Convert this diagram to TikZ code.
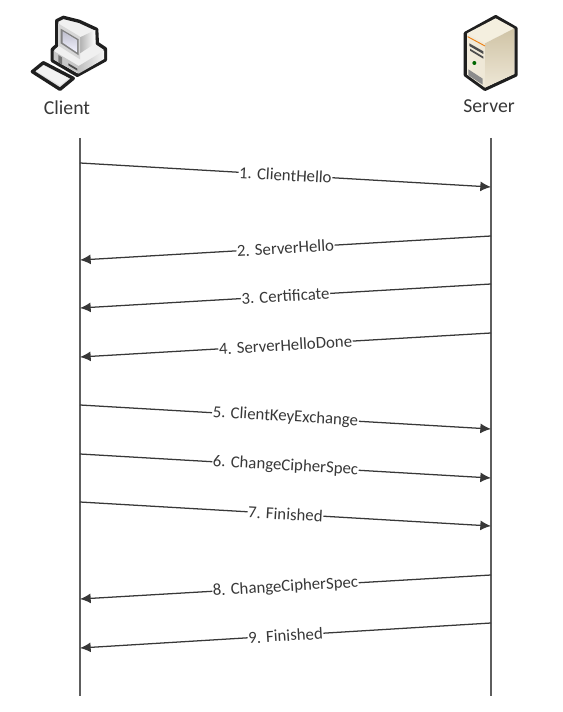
\documentclass[tikz,border=0pt]{standalone}
\usepackage{fontspec}
\setmainfont{Carlito}
\usetikzlibrary{arrows.meta}
\definecolor{inkgray}{HTML}{383838}
\definecolor{lifegray}{HTML}{5E5E5E}
\definecolor{srvtop}{HTML}{F4EFDF}
\definecolor{srvleft}{HTML}{F2ECDC}
\definecolor{srvmid}{HTML}{DDD2B8}
\definecolor{srvdark}{HTML}{CFC3A5}
\definecolor{srvlight}{HTML}{EEE7D6}
\tikzset{
  lifeline/.style={draw=lifegray,line width=1.15pt},
  msg/.style={draw=inkgray,line width=.95pt,-{Latex[length=8pt,width=7.5pt]}},
  backmsg/.style={draw=inkgray,line width=.95pt,{Latex[length=8pt,width=7.5pt]}-},
  msglabel/.style={midway,sloped,fill=white,text=inkgray,inner sep=.5pt,font=\fontsize{12.6}{14}\selectfont},
  hostlabel/.style={text=inkgray,inner sep=0pt,font=\fontsize{14.8}{17}\selectfont},
  edgeline/.style={draw=black!88,line width=2.5pt,line join=round},
}
\begin{document}
\begin{tikzpicture}[x=.75pt,y=-.75pt]
  \useasboundingbox (0,0) rectangle (562,712);
  \fill[white] (0,0) rectangle (562,712);
  % client icon, in 1/3 pixel units
  \begin{scope}[x=.25pt,y=-.25pt]
    \filldraw[edgeline,fill=black!12] (97,215) -- (130,188) -- (220,235) -- (180,268) -- cycle;
    \fill[black!5] (108,213) -- (131,197) -- (206,235) -- (180,256) -- cycle;
    \filldraw[edgeline,fill=black!6] (170,62) -- (190,52) -- (238,64) -- (290,88) -- (292,130) -- (316,146) -- (316,180) -- (232,226) -- (157,182) -- (157,148) -- (170,136) -- cycle;
    \fill[black!22] (161,153) -- (236,198) -- (236,221) -- (161,179) -- cycle;
    \fill[black!55] (175,165) -- (186,172) -- (186,194) -- (175,187) -- cycle;
    \fill[black!70] (205,190) -- (232,206) -- (232,212) -- (205,196) -- cycle;
    \shade[left color=black!25,right color=black!4] (236,198) -- (312,152) -- (312,177) -- (236,221) -- cycle;
    \shade[left color=black!30,right color=white] (240,112) -- (286,90) -- (286,130) -- (240,160) -- cycle;
    \fill[black!16] (174,70) -- (240,110) -- (240,178) -- (174,136) -- cycle;
    \fill[black!50] (182,86) -- (236,118) -- (236,166) -- (182,130) -- cycle;
    \shade[top color=blue!22!black!25,bottom color=blue!5] (188,94) -- (231,120) -- (231,157) -- (188,128) -- cycle;
  \end{scope}
  % server icon
  \begin{scope}[shift={(430,0)},x=.25pt,y=-.25pt]
    \filldraw[edgeline,fill=white] (197,50) -- (258,85) -- (258,225) -- (165,268) -- (106,225) -- (106,100) -- cycle;
    \fill[srvtop] (197,55) -- (252,85) -- (165,130) -- (111,100) -- cycle;
    \shade[left color=srvleft,right color=srvlight] (111,100) -- (165,130) -- (165,263) -- (111,224) -- cycle;
    \shade[top color=srvdark,bottom color=srvlight] (165,130) -- (253,85) -- (253,222) -- (165,263) -- cycle;
    \draw[orange!70!brown,line width=.7pt] (113,110) -- (165,138);
    \fill[black!70] (118,130) -- (160,154) -- (160,162) -- (118,138) -- cycle;
    \fill[black!70] (120,146) -- (160,170) -- (160,176) -- (120,152) -- cycle;
    \fill[black!60!green] (133,189) circle (6);
    \fill[black!45] (115,208) -- (158,236) -- (158,254) -- (115,226) -- cycle;
  \end{scope}
  \node[hostlabel] (client) at (67,108) {Client};
  \node[hostlabel] (server) at (489,106) {Server};
  % lifelines
  \coordinate (ctop) at (80,138);
  \coordinate (cbot) at (80,696);
  \coordinate (stop) at (491,138);
  \coordinate (sbot) at (491,696);
  \draw[lifeline] (ctop) -- (cbot);
  \draw[lifeline] (stop) -- (sbot);
  % messages
  \coordinate (c1) at (80,163);
  \coordinate (s1) at (491,187);
  \coordinate (c2) at (80,260);
  \coordinate (s2) at (491,236);
  \coordinate (c3) at (80,308);
  \coordinate (s3) at (491,284);
  \coordinate (c4) at (80,357);
  \coordinate (s4) at (491,333);
  \coordinate (c5) at (80,405);
  \coordinate (s5) at (491,429);
  \coordinate (c6) at (80,454);
  \coordinate (s6) at (491,478);
  \coordinate (c7) at (80,502);
  \coordinate (s7) at (491,526);
  \coordinate (c8) at (80,599);
  \coordinate (s8) at (491,575);
  \coordinate (c9) at (80,648);
  \coordinate (s9) at (491,623);
  \draw[msg] (c1) -- node[msglabel] (m1) {1. ClientHello} (s1);
  \draw[backmsg] (c2) -- node[msglabel] (m2) {2. ServerHello} (s2);
  \draw[backmsg] (c3) -- node[msglabel] (m3) {3. Certificate} (s3);
  \draw[backmsg] (c4) -- node[msglabel] (m4) {4. ServerHelloDone} (s4);
  \draw[msg] (c5) -- node[msglabel] (m5) {5. ClientKeyExchange} (s5);
  \draw[msg] (c6) -- node[msglabel] (m6) {6. ChangeCipherSpec} (s6);
  \draw[msg] (c7) -- node[msglabel] (m7) {7. Finished} (s7);
  \draw[backmsg] (c8) -- node[msglabel] (m8) {8. ChangeCipherSpec} (s8);
  \draw[backmsg] (c9) -- node[msglabel] (m9) {9. Finished} (s9);
\end{tikzpicture}
\end{document}
